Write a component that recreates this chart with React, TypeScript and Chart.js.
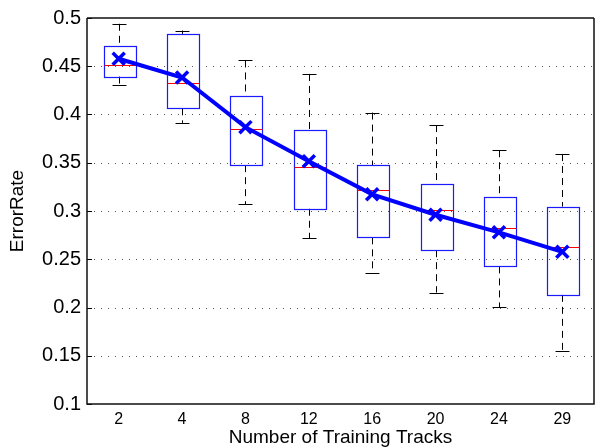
import { useEffect, useRef } from "react";
import { Chart, registerables } from "chart.js";

Chart.register(...registerables);

const categories = ["2", "4", "8", "12", "16", "20", "24", "29"];
const whiskerHigh = [0.494, 0.487, 0.456, 0.442, 0.402, 0.389, 0.363, 0.359];
const upperQuartile = [0.4715, 0.4835, 0.4188, 0.3835, 0.3475, 0.328, 0.3142, 0.3046];
const medians = [0.451, 0.4328, 0.3845, 0.3455, 0.3214, 0.3012, 0.2823, 0.2622];
const lowerQuartile = [0.4393, 0.4064, 0.3475, 0.3023, 0.2727, 0.2594, 0.2426, 0.2131];
const whiskerLow = [0.4308, 0.3913, 0.307, 0.272, 0.236, 0.2155, 0.2005, 0.1548];
const means = [0.4578, 0.4383, 0.3869, 0.3516, 0.3173, 0.2961, 0.2779, 0.2577];
const yMin = 0.1;
const yMax = 0.5;
const yStep = 0.05;

const FONT = "'Liberation Sans', Arial, Helvetica, sans-serif";

const boxPlugin = {
  id: "boxplots",
  beforeDatasetsDraw(chart: any) {
    const { ctx, chartArea } = chart;
    const x = chart.scales.x;
    const y = chart.scales.y;
    ctx.save();
    // dotted grid lines
    ctx.lineWidth = 1;
    ctx.strokeStyle = "#555";
    ctx.setLineDash([1, 6]);
    y.ticks.forEach((t: any) => {
      if (t.value > yMin + 1e-6 && t.value < yMax - 1e-6) {
        const py = Math.round(y.getPixelForValue(t.value)) + 0.5;
        ctx.beginPath();
        ctx.moveTo(chartArea.left, py);
        ctx.lineTo(chartArea.right, py);
        ctx.stroke();
      }
    });
    ctx.setLineDash([]);
    // inside ticks on left axis
    ctx.strokeStyle = "#000";
    y.ticks.forEach((t: any) => {
      const py = Math.round(y.getPixelForValue(t.value)) + 0.5;
      ctx.beginPath();
      ctx.moveTo(chartArea.left, py);
      ctx.lineTo(chartArea.left + 5, py);
      ctx.stroke();
    });

    const cw = x.getPixelForValue(1) - x.getPixelForValue(0);
    const boxW = cw * 0.5;
    const capW = cw * 0.22;
    categories.forEach((_, i) => {
      const cx = Math.round(x.getPixelForValue(i)) + 0.5;
      const pHi = y.getPixelForValue(whiskerHigh[i]);
      const pQ3 = y.getPixelForValue(upperQuartile[i]);
      const pMed = y.getPixelForValue(medians[i]);
      const pQ1 = y.getPixelForValue(lowerQuartile[i]);
      const pLo = y.getPixelForValue(whiskerLow[i]);
      // whiskers (dashed)
      ctx.strokeStyle = "#000";
      ctx.lineWidth = 1;
      ctx.setLineDash([7, 5]);
      ctx.beginPath();
      ctx.moveTo(cx, pHi);
      ctx.lineTo(cx, pQ3);
      ctx.moveTo(cx, pQ1);
      ctx.lineTo(cx, pLo);
      ctx.stroke();
      ctx.setLineDash([]);
      // caps
      ctx.beginPath();
      ctx.moveTo(cx - capW / 2, Math.round(pHi) + 0.5);
      ctx.lineTo(cx + capW / 2, Math.round(pHi) + 0.5);
      ctx.moveTo(cx - capW / 2, Math.round(pLo) + 0.5);
      ctx.lineTo(cx + capW / 2, Math.round(pLo) + 0.5);
      ctx.stroke();
      // box
      ctx.strokeStyle = "#1a1aff";
      ctx.lineWidth = 1.2;
      const bx = Math.round(cx - boxW / 2) + 0.5;
      const by = Math.round(pQ3) + 0.5;
      const bh = Math.round(pQ1) - Math.round(pQ3);
      ctx.strokeRect(bx, by, Math.round(boxW), bh);
      // median
      ctx.strokeStyle = "#ff0000";
      ctx.lineWidth = 1.2;
      ctx.beginPath();
      ctx.moveTo(bx, Math.round(pMed) + 0.5);
      ctx.lineTo(bx + Math.round(boxW), Math.round(pMed) + 0.5);
      ctx.stroke();
    });
    ctx.restore();
  },
  afterDraw(chart: any) {
    const { ctx, chartArea } = chart;
    ctx.save();
    ctx.strokeStyle = "#111";
    ctx.lineWidth = 1.5;
    ctx.beginPath();
    ctx.moveTo(chartArea.left, chartArea.top);
    ctx.lineTo(chartArea.right, chartArea.top);
    ctx.moveTo(chartArea.left, chartArea.top);
    ctx.lineTo(chartArea.left, chartArea.bottom);
    ctx.lineTo(chartArea.right, chartArea.bottom);
    ctx.lineTo(chartArea.right, chartArea.top);
    ctx.stroke();
    ctx.restore();
  },
};

export default function App() {
  const ref = useRef<HTMLCanvasElement | null>(null);
  useEffect(() => {
    if (!ref.current) return;
    const chart = new Chart(ref.current, {
      type: "line",
      data: {
        labels: categories,
        datasets: [
          {
            data: means,
            borderColor: "#0000ff",
            backgroundColor: "#0000ff",
            borderWidth: 4,
            pointStyle: "crossRot",
            pointRadius: 8.5,
            pointBorderWidth: 3.5,
            pointBorderColor: "#0000ff",
            tension: 0,
            fill: false,
          },
        ],
      },
      options: {
        responsive: false,
        animation: false,
        devicePixelRatio: 1,
        layout: { padding: { top: 15, right: 0, left: 0, bottom: 0 } },
        plugins: { legend: { display: false }, tooltip: { enabled: false } },
        scales: {
          x: {
            type: "category",
            offset: true,
            grid: { display: false, drawTicks: false },
            border: { display: false },
            ticks: { color: "#000", font: { family: FONT, size: 16 }, padding: 6, maxRotation: 0 },
            title: {
              display: true,
              text: "Number of Training Tracks",
              color: "#000",
              font: { family: FONT, size: 19 },
              padding: { top: 0, bottom: -1 },
            },
            afterFit: (s: any) => {
              s.height = 44;
            },
          },
          y: {
            type: "linear",
            min: yMin,
            max: yMax,
            grid: { display: false, drawTicks: false },
            border: { display: false },
            ticks: {
              stepSize: yStep,
              color: "#000",
              font: { family: FONT, size: 20 },
              padding: 6,
              callback: (v: any) => String(Number(Number(v).toFixed(2))),
            },
            title: {
              display: true,
              text: "ErrorRate",
              color: "#000",
              font: { family: FONT, size: 19 },
              padding: { top: 6, bottom: 0 },
            },
            afterFit: (s: any) => {
              s.width = 87;
            },
          },
        },
      },
      plugins: [boxPlugin],
    });
    return () => chart.destroy();
  }, []);
  return (
    <div style={{ position: "fixed", left: 0, top: 0, width: 606, height: 448, background: "#fff" }}>
      <canvas ref={ref} width={606} height={448} style={{ display: "block" }} />
    </div>
  );
}
